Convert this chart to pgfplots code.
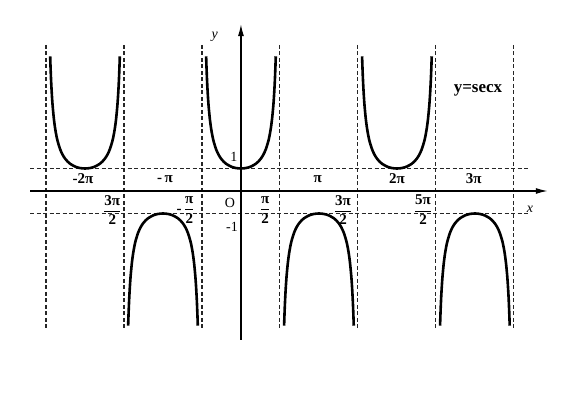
\documentclass[border=0pt]{standalone}
\usepackage{fontspec}
\setmainfont{Liberation Serif}
\usepackage{pgfplots}
\usepackage{pgfplotstable}
\pgfplotsset{compat=1.18}
\usetikzlibrary{arrows.meta}
\pgfplotstableread{
u s
-0.8932 5.988
-0.8849 5.5611
-0.8722 5.0138
-0.8594 4.5660
-0.8467 4.1934
-0.8276 3.7383
-0.7958 3.1714
-0.7639 2.7597
-0.7321 2.4481
-0.7003 2.2046
-0.6366 1.8508
-0.5730 1.6087
-0.5093 1.4353
-0.4456 1.3075
-0.3820 1.2116
-0.2546 1.0857
-0.1273 1.0203
0 1
0.1273 1.0203
0.2546 1.0857
0.3820 1.2116
0.4456 1.3075
0.5093 1.4353
0.5730 1.6087
0.6366 1.8508
0.7003 2.2046
0.7321 2.4481
0.7639 2.7597
0.7958 3.1714
0.8276 3.7383
0.8467 4.1934
0.8594 4.5660
0.8722 5.0138
0.8849 5.5611
0.8932 5.988
}\branch
\begin{document}
\fontsize{14}{16}\selectfont
\begin{tikzpicture}[lbl/.style={font=\fontsize{14}{16}\selectfont,inner sep=1pt},
  pil/.style={font=\fontsize{15}{17}\selectfont\bfseries,inner sep=1pt}]
\begin{axis}[width=586pt,height=400pt,scale only axis,
  xmin=-6.18,xmax=8.85,ymin=-9.29,ymax=8.49,hide axis,clip=false]
\path (rel axis cs:0,0) rectangle (rel axis cs:1,1);
% dashed asymptotes
\pgfplotsset{dsh/.style={black!85,line width=1.1pt,dash pattern=on 4pt off 2.5pt,forget plot}}
\addplot[dsh] coordinates {(-5,6.49) (-5,-6.18)};
\addplot[dsh] coordinates {(-3,6.49) (-3,-6.18)};
\addplot[dsh] coordinates {(-1,6.49) (-1,-6.18)};
\addplot[dsh] coordinates {(1,6.49) (1,-6.18)};
\addplot[dsh] coordinates {(3,6.49) (3,-6.18)};
\addplot[dsh] coordinates {(5,6.49) (5,-6.18)};
\addplot[dsh] coordinates {(7,6.49) (7,-6.18)};
\addplot[dsh] coordinates {(-5.41,1) (7.41,1)};
\addplot[dsh] coordinates {(-5.41,-1) (7.41,-1)};
% axes
\addplot[black,line width=1.4pt,-{Latex[length=12pt,width=6pt]}] coordinates {(-5.41,0) (7.87,0)};
\addplot[black,line width=1.4pt,-{Latex[length=12pt,width=6pt]}] coordinates {(0,-6.62) (0,7.42)};
% curves
\pgfplotsset{crv/.style={black,line width=2.6pt,smooth}}
\addplot[crv] table[x expr=\thisrow{u}-4,y=s] {\branch};
\addplot[crv] table[x expr=\thisrow{u},y=s] {\branch};
\addplot[crv] table[x expr=\thisrow{u}+4,y=s] {\branch};
\addplot[crv] table[x expr=\thisrow{u}-2,y expr=-\thisrow{s}] {\branch};
\addplot[crv] table[x expr=\thisrow{u}+2,y expr=-\thisrow{s}] {\branch};
\addplot[crv] table[x expr=\thisrow{u}+6,y expr=-\thisrow{s}] {\branch};
% labels
\node[pil] at (axis cs:-4.05,0.53) {-2π};
\node[pil] at (axis cs:-1.95,0.53) {-\,π};
\node[pil] at (axis cs:1.97,0.53) {π};
\node[pil] at (axis cs:4,0.53) {2π};
\node[pil] at (axis cs:5.97,0.53) {3π};
\node[pil] at (axis cs:-3.3,-0.84) {$\displaystyle\frac{\mbox{3π}}{\mbox{2}}$};
\node[pil] at (axis cs:-1.42,-0.84) {-\,$\displaystyle\frac{\mbox{π}}{\mbox{2}}$};
\node[pil] at (axis cs:0.62,-0.84) {$\displaystyle\frac{\mbox{π}}{\mbox{2}}$};
\node[pil] at (axis cs:2.62,-0.84) {$\displaystyle\frac{\mbox{3π}}{\mbox{2}}$};
\node[pil] at (axis cs:4.67,-0.84) {$\displaystyle\frac{\mbox{5π}}{\mbox{2}}$};
\node[lbl] at (axis cs:-0.28,-0.53) {O};
\node[lbl] at (axis cs:-0.18,1.51) {1};
\node[lbl] at (axis cs:-0.23,-1.6) {-1};
\node[lbl] at (axis cs:7.41,-0.8) {\itshape x};
\node[lbl] at (axis cs:-0.67,6.84) {\itshape y};
\node[lbl,font=\fontsize{17}{19}\selectfont\bfseries] at (axis cs:6.08,4.49) {y=secx};
\end{axis}
\end{tikzpicture}
\end{document}
